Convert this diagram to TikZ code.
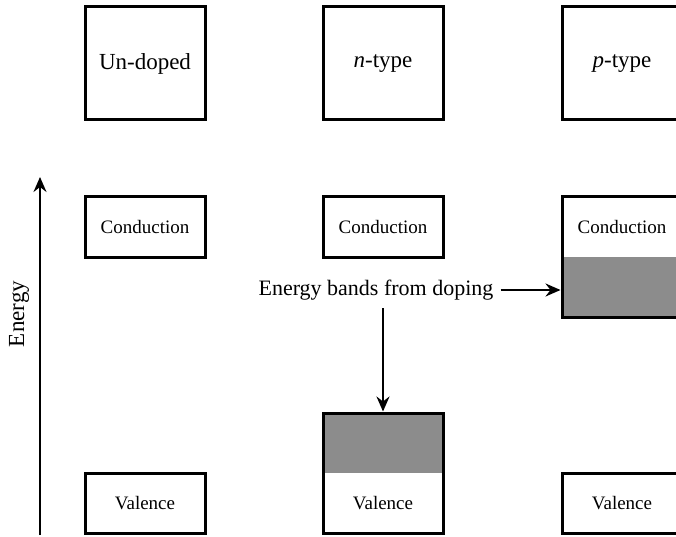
\documentclass[tikz,border=0pt]{standalone}
\usepackage{fontspec}
\setmainfont{Liberation Serif}
\usetikzlibrary{arrows.meta}
\definecolor{dopegray}{HTML}{8C8C8C}
\begin{document}
\begin{tikzpicture}[x=1pt,y=-1pt,
  band/.style={draw, line width=3pt, minimum width=120pt, minimum height=60pt,
    inner sep=0pt, font=\fontsize{19}{22}\selectfont},
  kind/.style={band, minimum height=113pt, font=\fontsize{23}{27}\selectfont},
  bandtext/.style={inner sep=0pt, font=\fontsize{19}{22}\selectfont},
  topfill/.style={path picture={\fill[dopegray] (path picture bounding box.north west)
    rectangle (path picture bounding box.east);}},
  bottomfill/.style={path picture={\fill[dopegray] (path picture bounding box.west)
    rectangle (path picture bounding box.south east);}},
  pointer/.style={line width=2.2pt, -{Stealth[length=15pt, width=13pt, inset=5pt]}}]
\useasboundingbox (0,0) rectangle (676,537);

% material kinds
\node[kind] (undoped) at (145,63.5) {Un-doped};
\node[kind] (ntype) at (383,63.5) {\textit{n}-type};
\node[kind] (ptype) at (622,63.5) {\textit{p}-type};

% conduction bands
\node[band] (c1) at (145,227) {Conduction};
\node[band] (c2) at (383,227) {Conduction};
\node[band, minimum height=120pt, bottomfill] (c3) at (622,257) {};
\node[bandtext] (c3t) at (622,227) {Conduction};

% valence bands
\node[band] (v1) at (145,503) {Valence};
\node[band, minimum height=120pt, topfill] (v2) at (383,473) {};
\node[bandtext] (v2t) at (383,503) {Valence};
\node[band] (v3) at (622,503) {Valence};

% energy axis
\coordinate (ebot) at (40,535);
\coordinate (etop) at (40,177);
\draw[pointer] (ebot) -- (etop);
\node[rotate=90, inner sep=0pt, font=\fontsize{23}{27}\selectfont] (elabel) at (19,314) {Energy};

% doping annotation
\node[inner sep=0pt, font=\fontsize{22}{26}\selectfont] (dop) at (376,290) {Energy bands from doping};
\draw[pointer] ([xshift=7pt]dop.east) -- (dop.east -| c3.west);
\draw[pointer] ([yshift=-8pt]dop.south -| v2.north) -- (v2.north);
\end{tikzpicture}
\end{document}
